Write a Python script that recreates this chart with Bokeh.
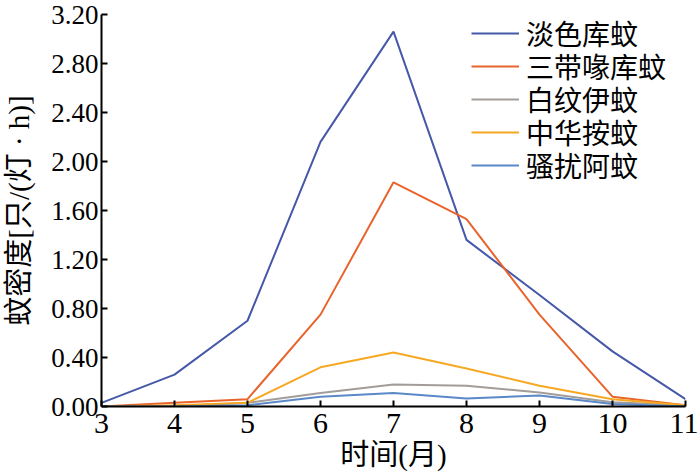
from bokeh.plotting import figure
from bokeh.models import Range1d, FixedTicker, Legend, LegendItem
from bokeh.embed import file_html
from bokeh.resources import INLINE

months = [3, 4, 5, 6, 7, 8, 9, 10, 11]
species = ["淡色库蚊", "三带喙库蚊", "白纹伊蚊", "中华按蚊", "骚扰阿蚊"]
culex_pallens = [0.03, 0.26, 0.70, 2.16, 3.06, 1.36, 0.91, 0.45, 0.06]
culex_tritaeniorhynchus = [0.00, 0.03, 0.06, 0.75, 1.83, 1.53, 0.75, 0.08, 0.01]
aedes_albopictus = [0.00, 0.00, 0.03, 0.11, 0.18, 0.17, 0.115, 0.035, 0.01]
anopheles_sinensis = [0.00, 0.01, 0.03, 0.32, 0.44, 0.31, 0.17, 0.06, 0.01]
armigeres_subalbatus = [0.00, 0.00, 0.01, 0.08, 0.11, 0.065, 0.09, 0.02, 0.00]
y_ticks = [0.0, 0.4, 0.8, 1.2, 1.6, 2.0, 2.4, 2.8, 3.2]
colors = ["#4658a8", "#e8642c", "#a39d9a", "#f7a823", "#5a88c8"]

series = [culex_pallens, culex_tritaeniorhynchus, aedes_albopictus,
          anopheles_sinensis, armigeres_subalbatus]

FONT = "'Liberation Serif', 'Times New Roman', 'Noto Sans CJK SC', serif"

p = figure(width=698, height=473, output_backend="svg", toolbar_location=None,
           x_range=Range1d(3, 11), y_range=Range1d(0, 3.2),
           min_border_left=100, min_border_right=13, min_border_top=14,
           min_border_bottom=67)
p.outline_line_color = None
p.background_fill_color = "white"
p.border_fill_color = "white"
p.grid.visible = False

renderers = []
for vals, col in zip(series, colors):
    r = p.line(months, vals, line_color=col, line_width=2)
    renderers.append(r)

p.xaxis.ticker = FixedTicker(ticks=months)
p.yaxis.ticker = FixedTicker(ticks=y_ticks)
p.yaxis.major_label_overrides = {t: f"{t:.2f}" for t in y_ticks}
for ax in (p.xaxis, p.yaxis):
    ax.major_tick_in = 6
    ax.major_tick_out = 0
    ax.minor_tick_in = 0
    ax.minor_tick_out = 0
    ax.axis_line_color = "black"
    ax.axis_line_width = 2
    ax.major_tick_line_color = "black"
    ax.major_tick_line_width = 2
    ax.major_label_text_font = FONT
    ax.major_label_text_color = "black"
    ax.axis_label_text_font = FONT
    ax.axis_label_text_font_size = "29px"
    ax.axis_label_text_font_style = "normal"
    ax.axis_label_text_color = "black"
p.xaxis.major_label_text_font_size = "30px"
p.yaxis.major_label_text_font_size = "27px"
p.xaxis.major_label_standoff = 7
p.yaxis.major_label_standoff = 3
p.xaxis.axis_label = "时间(月)"
p.yaxis.axis_label = "蚊密度[只/(灯 · h)]"
p.xaxis.axis_label_standoff = 3
p.yaxis.axis_label_standoff = 13

# one single-entry legend per species, stacked 33 px apart
row_bottoms = [353, 320, 287, 254, 221]
for name, r, vy in zip(species, renderers, row_bottoms):
    lg = Legend(items=[LegendItem(label=name, renderers=[r])], location=(370, vy))
    lg.label_text_font = FONT
    lg.label_text_font_size = "28px"
    lg.label_text_color = "black"
    lg.glyph_width = 48
    lg.glyph_height = 28
    lg.label_height = 28
    lg.padding = 0
    lg.margin = 0
    lg.label_standoff = 7
    lg.border_line_color = None
    lg.background_fill_alpha = 0
    p.add_layout(lg)

open("out.html", "w").write(file_html(p, INLINE))
